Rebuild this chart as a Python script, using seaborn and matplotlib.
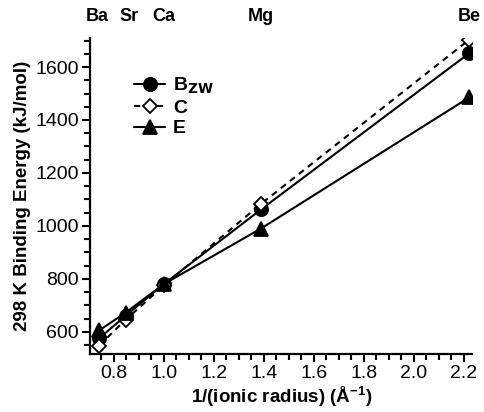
import matplotlib
matplotlib.use("Agg")
import matplotlib.pyplot as plt
import seaborn as sns
import pandas as pd
from matplotlib.ticker import MultipleLocator

elements = ["Ba", "Sr", "Ca", "Mg", "Be"]
inv_radius = [0.741, 0.847, 1.000, 1.389, 2.222]
b_zw = [575, 660, 780, 1062, 1652]
c_vals = [548, 645, 775, 1083, 1703]
e_vals = [605, 672, 780, 990, 1485]

sns.set_theme(style="ticks")
plt.rcParams["font.family"] = ["Liberation Sans", "DejaVu Sans"]
plt.rcParams["text.color"] = "black"
plt.rcParams["axes.labelcolor"] = "black"
plt.rcParams["xtick.color"] = "black"
plt.rcParams["ytick.color"] = "black"

df = pd.DataFrame({
    "x": inv_radius * 3,
    "y": b_zw + c_vals + e_vals,
    "series": ["B$_{\\mathbf{ZW}}$"] * 5 + ["C"] * 5 + ["E"] * 5,
})

fig = plt.figure(figsize=(4.84, 4.12), dpi=100)
ax = fig.add_axes([0.186, 0.14, 0.79, 0.768])

styles = {
    "B$_{\\mathbf{ZW}}$": dict(marker="o", ls="-", mfc="black"),
    "C": dict(marker="D", ls=(0, (3, 2.5)), mfc="white"),
    "E": dict(marker="^", ls="-", mfc="black"),
}
order = ["B$_{\\mathbf{ZW}}$", "C", "E"]
for name in order:
    sub = df[df["series"] == name]
    st = styles[name]
    sns.lineplot(data=sub, x="x", y="y", ax=ax, color="black", lw=1.5,
                 linestyle=st["ls"], marker=st["marker"],
                 markersize=9.5 if st["marker"] != "D" else 7,
                 markerfacecolor=st["mfc"], markeredgecolor="black",
                 markeredgewidth=1.3, label=name)

ax.set_xlim(0.705, 2.235)
ax.set_ylim(515, 1710)
ax.xaxis.set_major_locator(MultipleLocator(0.2))
ax.xaxis.set_minor_locator(MultipleLocator(0.05))
ax.yaxis.set_major_locator(MultipleLocator(200))
ax.yaxis.set_minor_locator(MultipleLocator(50))
ax.xaxis.set_major_formatter(matplotlib.ticker.FormatStrFormatter("%.1f"))
ax.tick_params(which="major", length=6, width=1.5, labelsize=14, color="black", labelcolor="black", pad=2)
ax.tick_params(which="minor", length=4, width=1.5, color="black")
for s in ["left", "bottom"]:
    ax.spines[s].set_linewidth(1.6)
    ax.spines[s].set_color("black")
ax.spines["top"].set_visible(False)
ax.spines["right"].set_visible(False)

ax.set_xlabel("1/(ionic radius) (Å$^{\\mathregular{-1}}$)", fontsize=13.5, fontweight="bold", color="black", labelpad=1)
ax.set_ylabel("298 K Binding Energy (kJ/mol)", fontsize=13.5, fontweight="bold", color="black", labelpad=3)

top = ax.secondary_xaxis("top")
top.set_xticks([0.735, 0.86, 1.0, 1.39, 2.222])
top.set_xticklabels(elements, fontsize=13, fontweight="bold", color="black")
top.tick_params(length=0, pad=9)
top.spines["top"].set_visible(False)

leg = ax.legend(loc="upper left", bbox_to_anchor=(0.07, 0.935), frameon=False,
                handlelength=1.6, handletextpad=0.4, labelspacing=0.15,
                prop={"weight": "bold", "size": 14})

fig.savefig("out.png", dpi=100)
